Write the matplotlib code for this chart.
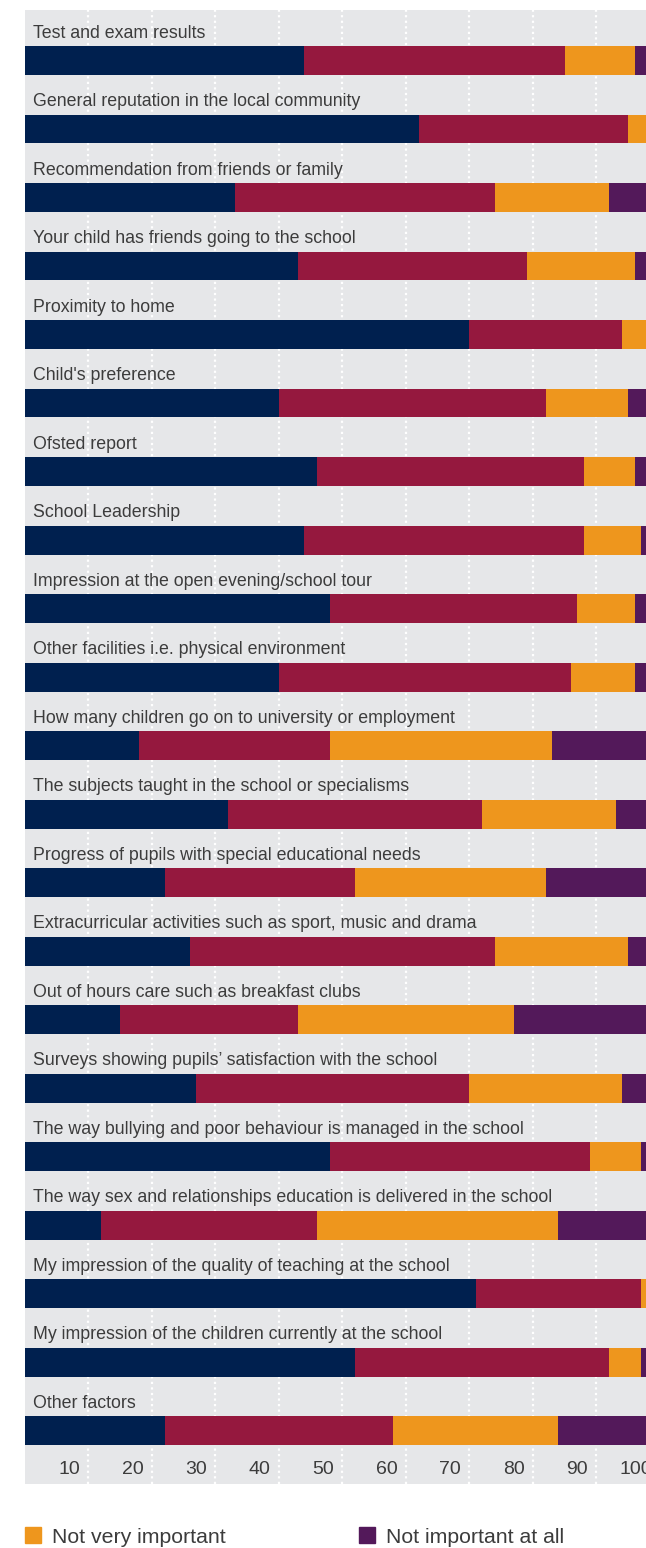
import matplotlib
matplotlib.use('Agg')
import matplotlib.pyplot as plt
from matplotlib.patches import Patch

# survey data (% of respondents)
factors = [
    'Test and exam results',
    'General reputation in the local community',
    'Recommendation from friends or family',
    'Your child has friends going to the school',
    'Proximity to home',
    "Child's preference",
    'Ofsted report',
    'School Leadership',
    'Impression at the open evening/school tour',
    'Other facilities i.e. physical environment',
    'How many children go on to university or employment',
    'The subjects taught in the school or specialisms',
    'Progress of pupils with special educational needs',
    'Extracurricular activities such as sport, music and drama',
    'Out of hours care such as breakfast clubs',
    'Surveys showing pupils\u2019 satisfaction with the school',
    'The way bullying and poor behaviour is managed in the school',
    'The way sex and relationships education is delivered in the school',
    'My impression of the quality of teaching at the school',
    'My impression of the children currently at the school',
    'Other factors',
]
very_important = [44, 62, 33, 43, 70, 40, 46, 44, 48, 40, 18, 32, 22, 26, 15, 27, 48, 12, 71, 52, 22]
important = [41, 33, 41, 36, 24, 42, 42, 44, 39, 46, 30, 40, 30, 48, 28, 43, 41, 34, 26, 40, 36]
not_very_important = [11, 4, 18, 17, 5, 13, 8, 9, 9, 10, 35, 21, 30, 21, 34, 24, 8, 38, 2, 5, 26]
not_important_at_all = [4, 1, 8, 4, 1, 5, 4, 3, 4, 4, 17, 7, 18, 5, 23, 6, 3, 16, 1, 3, 16]

series = ['Very important', 'Important', 'Not very important', 'Not important at all']
colors = ['#00204F', '#95183E', '#EE961D', '#53195A']
tick_values = [10, 20, 30, 40, 50, 60, 70, 80, 90, 100]

plt.rcParams['font.family'] = ['Liberation Sans', 'DejaVu Sans']
text_color = '#3C3C3C'

W, H = 646, 1548
fig = plt.figure(figsize=(W / 100, H / 100), dpi=100)
ax = fig.add_axes([25 / W, (H - 1484) / H, 621 / W, 1474 / H])
ax.set_facecolor('#E6E7E9')

rows = list(range(len(factors)))
left = [0] * len(factors)
for vals, col, name in zip([very_important, important, not_very_important, not_important_at_all], colors, series):
    ax.barh(rows, vals, left=left, height=0.423, color=col, label=name, zorder=3)
    left = [a + b for a, b in zip(left, vals)]

for i, name in enumerate(factors):
    ax.text(1.2, i - 0.33, name, ha='left', va='baseline', fontsize=12.8, color=text_color, zorder=4)

# dotted white gridlines
for v in tick_values[:-1]:
    ax.axvline(v, color='white', linestyle=(0, (1, 1.5)), linewidth=1.6, zorder=1)

for v in tick_values:
    ax.annotate(str(v), xy=(v, 0.0095), xycoords=('data', 'axes fraction'),
                xytext=(-6, 0), textcoords='offset points',
                ha='right', va='center', fontsize=14, color=text_color)

ax.set_xlim(0, 97.8)
ax.set_ylim(20.78, -0.737)
ax.set_xticks([])
ax.set_yticks([])
for s in ax.spines.values():
    s.set_visible(False)

handles = [Patch(color=colors[2]), Patch(color=colors[3])]
fig.legend(handles, series[2:], ncol=2, loc='center left',
           bbox_to_anchor=(25 / W, (H - 1537) / H), frameon=False,
           fontsize=15.3, handlelength=0.75, handleheight=0.75,
           handletextpad=0.5, columnspacing=6.3, borderpad=0, borderaxespad=0,
           labelcolor=text_color)

fig.savefig('out.png', dpi=100)
